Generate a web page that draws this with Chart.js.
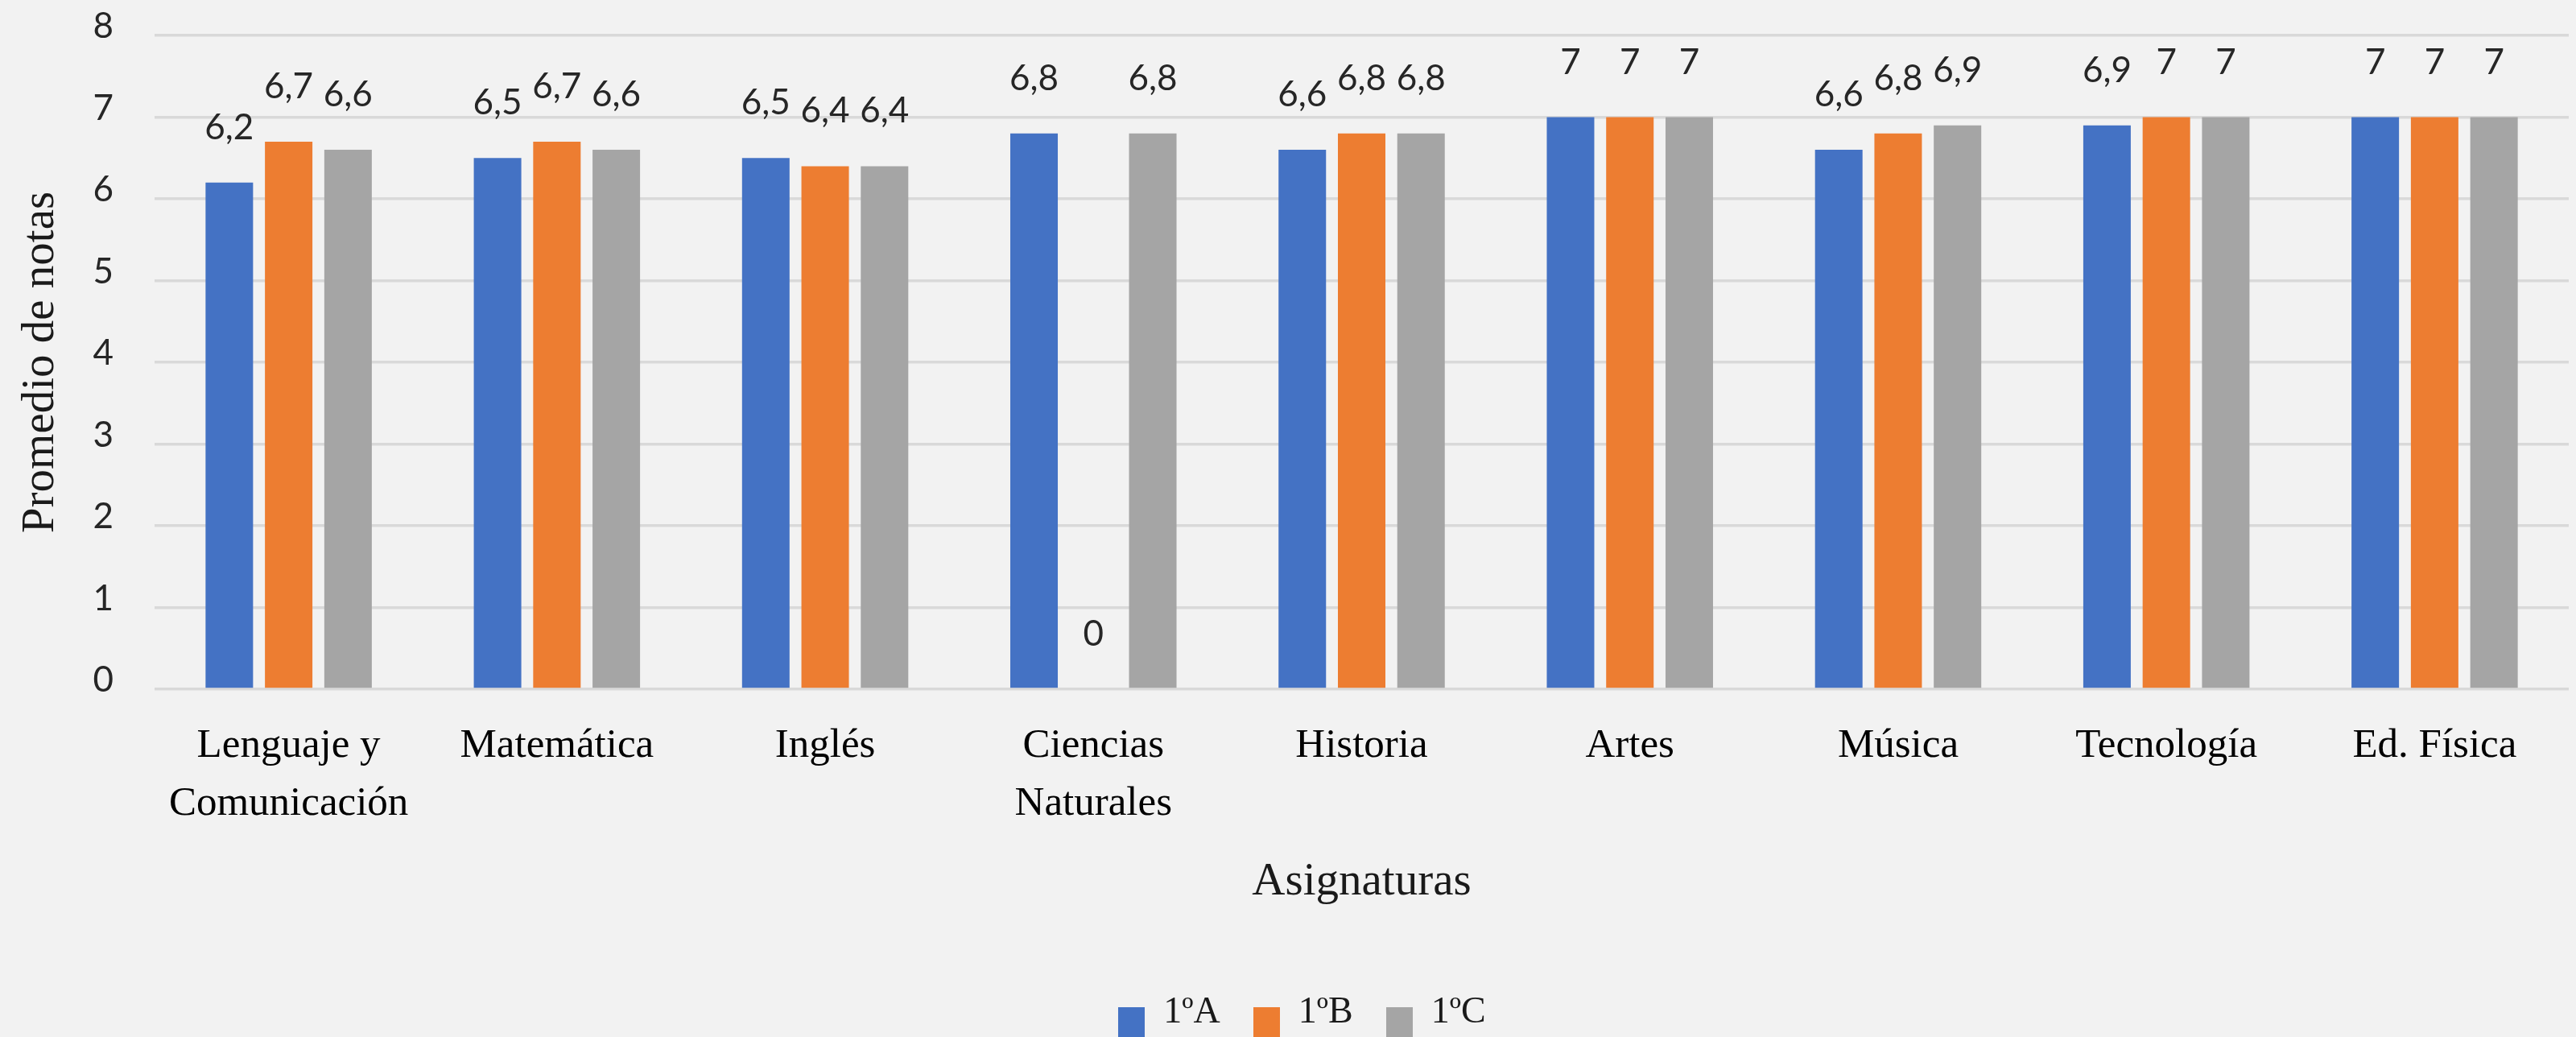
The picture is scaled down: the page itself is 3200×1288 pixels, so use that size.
<!DOCTYPE html>
<html>
<head>
<meta charset="utf-8">
<script src="https://cdn.jsdelivr.net/npm/chart.js@4.4.1/dist/chart.umd.min.js"></script>
<style>
  html, body { margin: 0; padding: 0; background: #f2f2f2; overflow: hidden; }
  #wrap { width: 3200px; height: 1288px; }
  canvas { display: block; background: #f2f2f2; }
</style>
</head>
<body>
<div id="wrap"><canvas id="chart" width="3200" height="1288"></canvas></div>
<script>
// ---- data ----
const categories = [
  ['Lenguaje y', 'Comunicación'],
  'Matemática',
  'Inglés',
  ['Ciencias', 'Naturales'],
  'Historia',
  'Artes',
  'Música',
  'Tecnología',
  'Ed. Física'
];
const seriesNames = ['1ºA', '1ºB', '1ºC'];
const serie1A = [6.2, 6.5, 6.5, 6.8, 6.6, 7, 6.6, 6.9, 7];
const serie1B = [6.7, 6.7, 6.4, 0, 6.8, 7, 6.8, 7, 7];
const serie1C = [6.6, 6.6, 6.4, 6.8, 6.8, 7, 6.9, 7, 7];
const yTicks = [0, 1, 2, 3, 4, 5, 6, 7, 8];
const xTitle = 'Asignaturas';
const yTitle = 'Promedio de notas';

// ---- styles ----
const colors = ['#4472c4', '#ed7d31', '#a5a5a5'];
const serif = '"Liberation Serif", "Times New Roman", serif';
const sans = 'Lato, "Liberation Sans", sans-serif';

// legend marker images (square sitting slightly below the text middle, as in the original)
function makeMarker(color) {
  const c = document.createElement('canvas');
  c.width = 33; c.height = 76;
  const g = c.getContext('2d');
  g.fillStyle = color;
  g.fillRect(0, 31, 33, 45);
  return c;
}
const markers = colors.map(makeMarker);

const valueLabels = {
  id: 'valueLabels',
  afterDatasetsDraw(chart) {
    const ctx = chart.ctx;
    ctx.save();
    ctx.font = '44px ' + sans;
    ctx.fillStyle = '#262626';
    ctx.textAlign = 'center';
    ctx.textBaseline = 'alphabetic';
    chart.data.datasets.forEach((ds, i) => {
      const meta = chart.getDatasetMeta(i);
      meta.data.forEach((bar, j) => {
        const v = ds.data[j];
        ctx.fillText(String(v).replace('.', ','), bar.x, bar.y - 54);
      });
    });
    ctx.restore();
  }
};

const ctx = document.getElementById('chart').getContext('2d');
new Chart(ctx, {
  type: 'bar',
  data: {
    labels: categories,
    datasets: [
      { label: seriesNames[0], data: serie1A, backgroundColor: colors[0] },
      { label: seriesNames[1], data: serie1B, backgroundColor: colors[1] },
      { label: seriesNames[2], data: serie1C, backgroundColor: colors[2] }
    ]
  },
  options: {
    responsive: false,
    devicePixelRatio: 1,
    animation: false,
    categoryPercentage: 0.664,
    barPercentage: 0.8,
    layout: { padding: { top: 44, left: 44, right: 9, bottom: 0 } },
    scales: {
      x: {
        grid: { display: false, drawTicks: false },
        border: { display: false },
        afterFit(scale) { scale.height = 338; },
        ticks: {
          autoSkip: false,
          maxRotation: 0,
          minRotation: 0,
          padding: 35,
          color: '#000000',
          font: { family: serif, size: 51, lineHeight: 72 / 51 }
        },
        title: {
          display: true,
          text: xTitle,
          color: '#1a1a1a',
          font: { family: serif, size: 57, lineHeight: 1.2 },
          padding: { top: 29, bottom: 64 }
        }
      },
      y: {
        min: 0,
        max: 8,
        afterBuildTicks(scale) { scale.ticks = yTicks.map(v => ({ value: v })); },
        afterFit(scale) { scale.width = 148; scale.paddingTop = 0; scale.paddingBottom = 0; },
        grid: { color: '#d9d9d9', lineWidth: 3.5, drawTicks: false },
        border: { display: false },
        ticks: {
          padding: 51,
          labelOffset: -11,
          color: '#262626',
          font: { family: sans, size: 44, lineHeight: 1.2 },
          callback: v => String(v)
        },
        title: {
          display: true,
          text: yTitle,
          color: '#1a1a1a',
          font: { family: serif, size: 57, lineHeight: 1.2 },
          padding: { top: -27, bottom: 30 }
        }
      }
    },
    plugins: {
      tooltip: { enabled: false },
      legend: {
        position: 'bottom',
        maxHeight: 94,
        labels: {
          usePointStyle: true,
          pointStyleWidth: 33,
          boxWidth: 33,
          boxHeight: 33,
          padding: 41,
          color: '#1a1a1a',
          font: { family: serif, size: 46 },
          generateLabels(chart) {
            const items = Chart.defaults.plugins.legend.labels.generateLabels(chart);
            items.forEach(it => { it.pointStyle = markers[it.datasetIndex]; });
            return items;
          }
        }
      }
    }
  },
  plugins: [valueLabels]
});
</script>
</body>
</html>
